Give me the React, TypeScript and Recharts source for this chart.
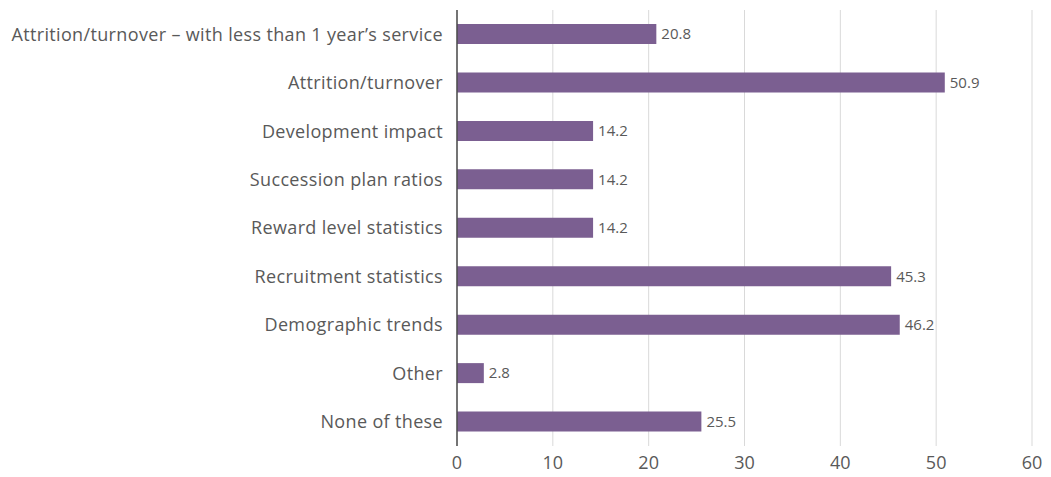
import React from "react";
import { BarChart, Bar, XAxis, YAxis, CartesianGrid, LabelList } from "recharts";

const categories = [
  "Attrition/turnover – with less than 1 year’s service",
  "Attrition/turnover",
  "Development impact",
  "Succession plan ratios",
  "Reward level statistics",
  "Recruitment statistics",
  "Demographic trends",
  "Other",
  "None of these",
];
const values = [20.8, 50.9, 14.2, 14.2, 14.2, 45.3, 46.2, 2.8, 25.5];
const xTicks = [0, 10, 20, 30, 40, 50, 60];

const data = categories.map((name, i) => ({ name, value: values[i] }));

const font = "'Open Sans', Lato, sans-serif";

const App: React.FC = () => {
  return (
    <BarChart
      width={1043}
      height={469}
      data={data}
      layout="vertical"
      margin={{ top: 2, right: 19, left: 0, bottom: 0 }}
      barCategoryGap={0}
    >
      <CartesianGrid horizontal={false} vertical stroke="#d9d9d9" />
      <XAxis
        type="number"
        domain={[0, 60]}
        ticks={xTicks}
        axisLine={false}
        tickLine={false}
        height={31}
        tickMargin={4}
        tick={{ fill: "#595959", fontSize: 18, fontFamily: font }}
      />
      <YAxis
        type="category"
        dataKey="name"
        width={449}
        axisLine={{ stroke: "#4d4d4d", strokeWidth: 1.5 }}
        tickLine={false}
        tickMargin={8}
        interval={0}
        tick={{ fill: "#595959", fontSize: 18, fontFamily: font, letterSpacing: 0.35 }}
      />
      <Bar dataKey="value" fill="#7b5f91" barSize={20} isAnimationActive={false}>
        <LabelList
          dataKey="value"
          position="right"
          offset={5}
          style={{ fill: "#595959", fontSize: 15, fontFamily: font }}
        />
      </Bar>
    </BarChart>
  );
};

export default App;
